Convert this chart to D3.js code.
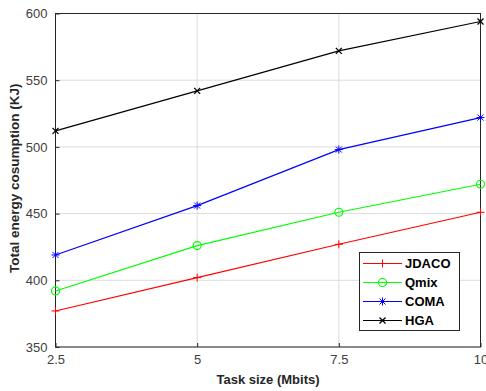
<!DOCTYPE html>
<html><head><meta charset="utf-8">
<script src="https://cdn.jsdelivr.net/npm/d3@7"></script>
<style>body{margin:0;background:#fff}</style>
</head><body><svg id="c" width="486" height="391"></svg>
<script>
const categories = [2.5, 5, 7.5, 10];
const jdaco = [377, 402, 427, 451];
const qmix = [392, 426, 451, 472];
const coma = [419, 456, 498, 522];
const hga = [512, 542, 572, 594];
const yTicks = [350, 400, 450, 500, 550, 600];
const xTickLabels = ["2.5", "5", "7.5", "10"];
const seriesNames = ["JDACO", "Qmix", "COMA", "HGA"];
const seriesColors = ["#ff0000", "#00ff00", "#0000ff", "#000000"];
const seriesMarkers = ["plus", "circle", "star", "cross"];
const seriesData = [jdaco, qmix, coma, hga];

const svg = d3.select("#c");
const L = 55.5, R = 480.5, T = 13.5, B = 347;
const x = d3.scaleLinear().domain([2.5, 10]).range([L, R]);
const y = d3.scaleLinear().domain([350, 600]).range([B, T]);
const font = "Arial, 'Liberation Sans', sans-serif";

// grid
svg.append("g").selectAll("line").data(categories).join("line")
  .attr("x1", d => x(d)).attr("x2", d => x(d)).attr("y1", T).attr("y2", B)
  .attr("stroke", "#dcdcdc").attr("stroke-width", 1);
svg.append("g").selectAll("line").data(yTicks).join("line")
  .attr("x1", L).attr("x2", R).attr("y1", d => y(d)).attr("y2", d => y(d))
  .attr("stroke", "#dcdcdc").attr("stroke-width", 1);

// axes (ticks inside)
const xAxis = d3.axisBottom(x).tickValues(categories).tickFormat((d, i) => xTickLabels[i]).tickSizeInner(-4).tickSizeOuter(0).tickPadding(8);
const yAxis = d3.axisLeft(y).tickValues(yTicks).tickSizeInner(-4).tickSizeOuter(0).tickPadding(8);
const gx = svg.append("g").attr("transform", `translate(0,${B})`).call(xAxis);
const gy = svg.append("g").attr("transform", `translate(${L},0)`).call(yAxis);
[gx, gy].forEach(g => {
  g.select(".domain").remove();
  g.selectAll("line").attr("stroke", "#262626");
  g.selectAll("text").attr("fill", "#404040").style("font-family", font).style("font-size", "13px");
});
// box
svg.append("rect").attr("x", L).attr("y", T).attr("width", R - L).attr("height", B - T)
  .attr("fill", "none").attr("stroke", "#262626").attr("stroke-width", 1);

// markers
function marker(g, type, cx, cy, color) {
  const s = 4;
  if (type === "plus") {
    g.append("path").attr("d", `M${cx - s},${cy}H${cx + s}M${cx},${cy - s}V${cy + s}`).attr("stroke", color).attr("fill", "none");
  } else if (type === "circle") {
    g.append("circle").attr("cx", cx).attr("cy", cy).attr("r", 4).attr("stroke", color).attr("fill", "none").attr("stroke-width", 1.2);
  } else if (type === "star") {
    const d = s * 0.75;
    g.append("path").attr("d", `M${cx - s},${cy}H${cx + s}M${cx},${cy - s}V${cy + s}M${cx - d},${cy - d}L${cx + d},${cy + d}M${cx - d},${cy + d}L${cx + d},${cy - d}`).attr("stroke", color).attr("fill", "none");
  } else {
    const d = 3;
    g.append("path").attr("d", `M${cx - d},${cy - d}L${cx + d},${cy + d}M${cx - d},${cy + d}L${cx + d},${cy - d}`).attr("stroke", color).attr("fill", "none").attr("stroke-width", 1.3);
  }
}

const line = d3.line().x((d, i) => x(categories[i])).y(d => y(d));
seriesData.forEach((vals, k) => {
  const g = svg.append("g");
  g.append("path").datum(vals).attr("d", line).attr("fill", "none")
    .attr("stroke", seriesColors[k]).attr("stroke-width", 1.2);
  vals.forEach((v, i) => marker(g, seriesMarkers[k], x(categories[i]), y(v), seriesColors[k]));
});

// legend
const lg = svg.append("g");
lg.append("rect").attr("x", 359.5).attr("y", 252.5).attr("width", 100).attr("height", 78)
  .attr("fill", "#fff").attr("stroke", "#262626").attr("stroke-width", 1);
seriesNames.forEach((n, k) => {
  const yy = 263.5 + k * 19;
  lg.append("line").attr("x1", 363).attr("x2", 402).attr("y1", yy).attr("y2", yy)
    .attr("stroke", seriesColors[k]).attr("stroke-width", 1.2);
  marker(lg, seriesMarkers[k], 382.5, yy, seriesColors[k]);
  lg.append("text").attr("x", 405).attr("y", yy).attr("dy", "0.36em").text(n)
    .style("font-family", font).style("font-size", "13px").style("font-weight", "bold").attr("fill", "#000");
});

// titles
svg.append("text").attr("x", (L + R) / 2).attr("y", 384).attr("text-anchor", "middle")
  .text("Task size (Mbits)").style("font-family", font).style("font-size", "13px").style("font-weight", "bold").attr("fill", "#262626");
svg.append("text").attr("transform", `translate(19,${(T + B) / 2 - 2}) rotate(-90)`).attr("text-anchor", "middle")
  .text("Total energy cosumption (KJ)").style("font-family", font).style("font-size", "13.5px").style("font-weight", "bold").attr("fill", "#262626");
</script></body></html>
